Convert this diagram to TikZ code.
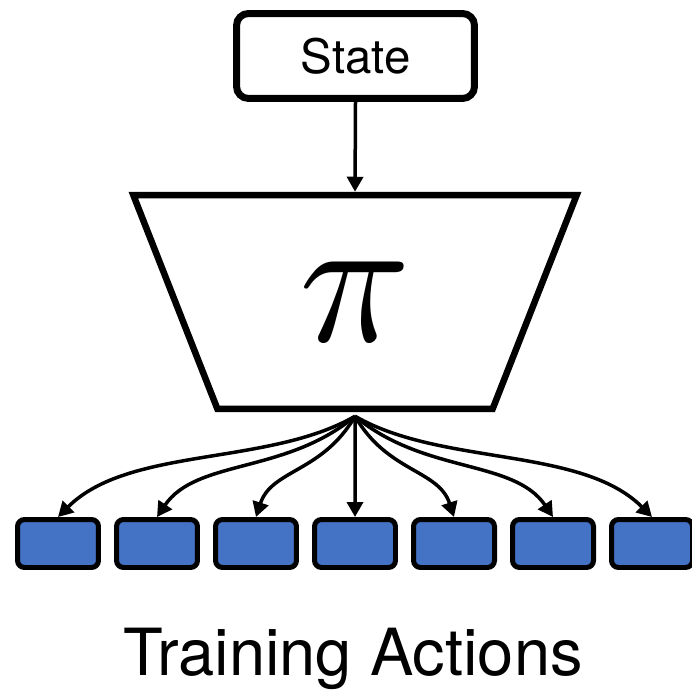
\documentclass[tikz,border=0pt]{standalone}
\usepackage{fontspec}
\setmainfont{TeX Gyre Heros}
\usetikzlibrary{shapes.geometric,arrows.meta,positioning}
\definecolor{actblue}{HTML}{4472C4}
\tikzset{
  statebox/.style={draw,rounded corners=0.24cm,line width=0.14cm,minimum width=4.76cm,minimum height=1.7cm,font=\fontsize{27}{30}\selectfont},
  netbox/.style={draw,trapezium,shape border rotate=180,trapezium stretches=true,trapezium angle=67.5,line width=0.13cm,minimum width=8.88cm,minimum height=4.28cm},
  actbox/.style={draw,fill=actblue,rounded corners=0.14cm,line width=0.1cm,minimum width=1.62cm,minimum height=0.96cm},
  flow/.style={line width=0.07cm,-{Triangle[length=0.3cm,width=0.32cm]}}
}

\begin{document}
\begin{tikzpicture}[x=0.02cm,y=0.02cm]
            \useasboundingbox (0,0) rectangle (692,690);
            \node [statebox] (state) at (355.5,634) {State};
            \node [netbox] (net) at (355,388) {\scalebox{10.5}{$\pi$}};
            \coordinate (fan) at ([yshift=-0.08cm]net.south);
            \draw [flow] (state.south) -- (net.north);
            \foreach \i in {1,...,7} {
                \node [actbox] (a\i) at ({58+99*(\i-1)},146.5) {};
            }
            \draw [flow] (fan) -- (a4.north);
            \foreach \i/\o/\n/\od/\nd in {1/-150/45/2/2,2/-140/56/1.8/1.4,3/-120/72/1.3/1,5/-60/108/1.3/1,6/-40/124/1.8/1.4,7/-30/135/2/2} {
                \draw [flow] (fan) to [out=\o,in=\n,out distance=\od cm,in distance=\nd cm] (a\i.north);
            }
            \node [anchor=base,font=\fontsize{37}{40}\selectfont] (label) at (353,15) {Training Actions};
        \end{tikzpicture}
\end{document}
